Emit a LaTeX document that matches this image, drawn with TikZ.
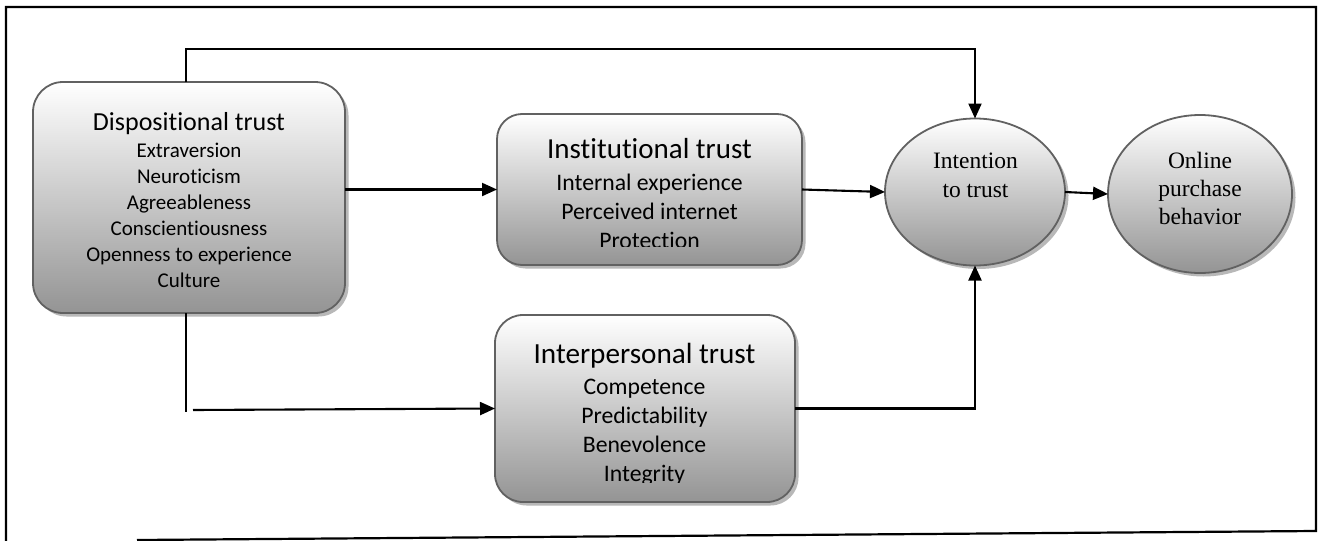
\documentclass[tikz,border=0pt]{standalone}
\usepackage{fontspec}
\setmainfont{Carlito}[Ligatures=CommonOff]
\newfontfamily\timesf{Liberation Serif}
\usetikzlibrary{shapes.geometric,shadows,arrows.meta}
\tikzset{
  frameline/.style={line width=2.2pt, black},
  conn/.style={line width=2.1pt, black},
  arr/.style={conn, -{Triangle[length=15pt,width=13pt]}},
  boxbase/.style={draw=black!62, line width=1.8pt, top color=white, bottom color=black!42,
    drop shadow={shadow xshift=3.5pt, shadow yshift=-3.5pt, fill=black!28, opacity=1},
    inner sep=0pt, outer sep=0pt},
  trustbox/.style={boxbase, rectangle},
  oval/.style={boxbase, ellipse},
  title/.style={anchor=base, inner sep=0pt},
  item/.style={anchor=base, inner sep=0pt},
  etext/.style={anchor=base, inner sep=0pt, font=\timesf\fontsize{23.5}{28}\selectfont},
}
\begin{document}
\begin{tikzpicture}[x=1pt,y=-1pt]
\useasboundingbox (0,0) rectangle (1318,541);
\fill[white] (0,0) rectangle (1318,541);

% outer frame
\draw[frameline] (6,541) -- (6,7) -- (1316,7) -- (1316,531) -- (137,540);

% boxes
\node[trustbox, rounded corners=30pt, minimum width=312pt, minimum height=231pt] (disp) at (189,197.5) {};
\node[trustbox, rounded corners=25pt, minimum width=305pt, minimum height=151pt] (inst) at (649.5,189.5) {};
\node[trustbox, rounded corners=28pt, minimum width=300pt, minimum height=187pt] (inter) at (645,408.5) {};
\node[oval, minimum width=180pt, minimum height=147pt] (intent) at (975,192) {};
\node[oval, minimum width=184pt, minimum height=158pt] (online) at (1200,194) {};

% dispositional text
\node[title, font=\fontsize{26}{30}\selectfont] (dispT) at (189,130) {Dispositional trust};
\foreach \t [count=\i] in {Extraversion, Neuroticism, Agreeableness, Conscientiousness, Openness to experience, Culture}
  \node[item, font=\fontsize{21}{26}\selectfont] (dispI\i) at (189,{157+26*(\i-1)}) {\t};

% institutional text (clipped at bottom)
\begin{scope}
\clip (497,114) rectangle (802,246.5);
\node[title, font=\fontsize{29}{34}\selectfont] (instT) at (649.5,158.3) {Institutional trust};
\foreach \t [count=\i] in {Internal experience, Perceived internet, Protection}
  \node[item, font=\fontsize{23.7}{29}\selectfont] (instI\i) at (649.5,{190+29.3*(\i-1)}) {\t};
\end{scope}

% interpersonal text (clipped at bottom)
\begin{scope}
\clip (495,315) rectangle (795,482.7);
\node[title, font=\fontsize{29.2}{34}\selectfont] (interT) at (644.5,363.3) {Interpersonal trust};
\foreach \t [count=\i] in {Competence, Predictability, Benevolence, Integrity}
  \node[item, font=\fontsize{23.7}{29}\selectfont] (interI\i) at (644.5,{394.3+29*(\i-1)}) {\t};
\end{scope}

% ellipse text
\node[etext] (intentA) at (975.5,168) {Intention};
\node[etext] (intentB) at (975.5,197) {to trust};
\node[etext] (onlineA) at (1200,168) {Online};
\node[etext] (onlineB) at (1200,196) {purchase};
\node[etext] (onlineC) at (1200,224) {behavior};

% connectors
\coordinate (topturn) at (186,49);
\draw[arr] (disp.north -| topturn) -- (topturn) -| (intent.north);
\draw[arr] (disp.east |- inst.west) -- (inst.west);
\draw[arr] (inst.east) -- (intent.west);
\draw[arr] (intent.east) -- (online.west);
\coordinate (botend) at (186,412);
\draw[conn] (disp.south -| botend) -- (botend);
\coordinate (botstart) at (193,410);
\draw[arr] (botstart) -- (inter.west);
\draw[arr] (inter.east) -| (intent.south);
\end{tikzpicture}
\end{document}
